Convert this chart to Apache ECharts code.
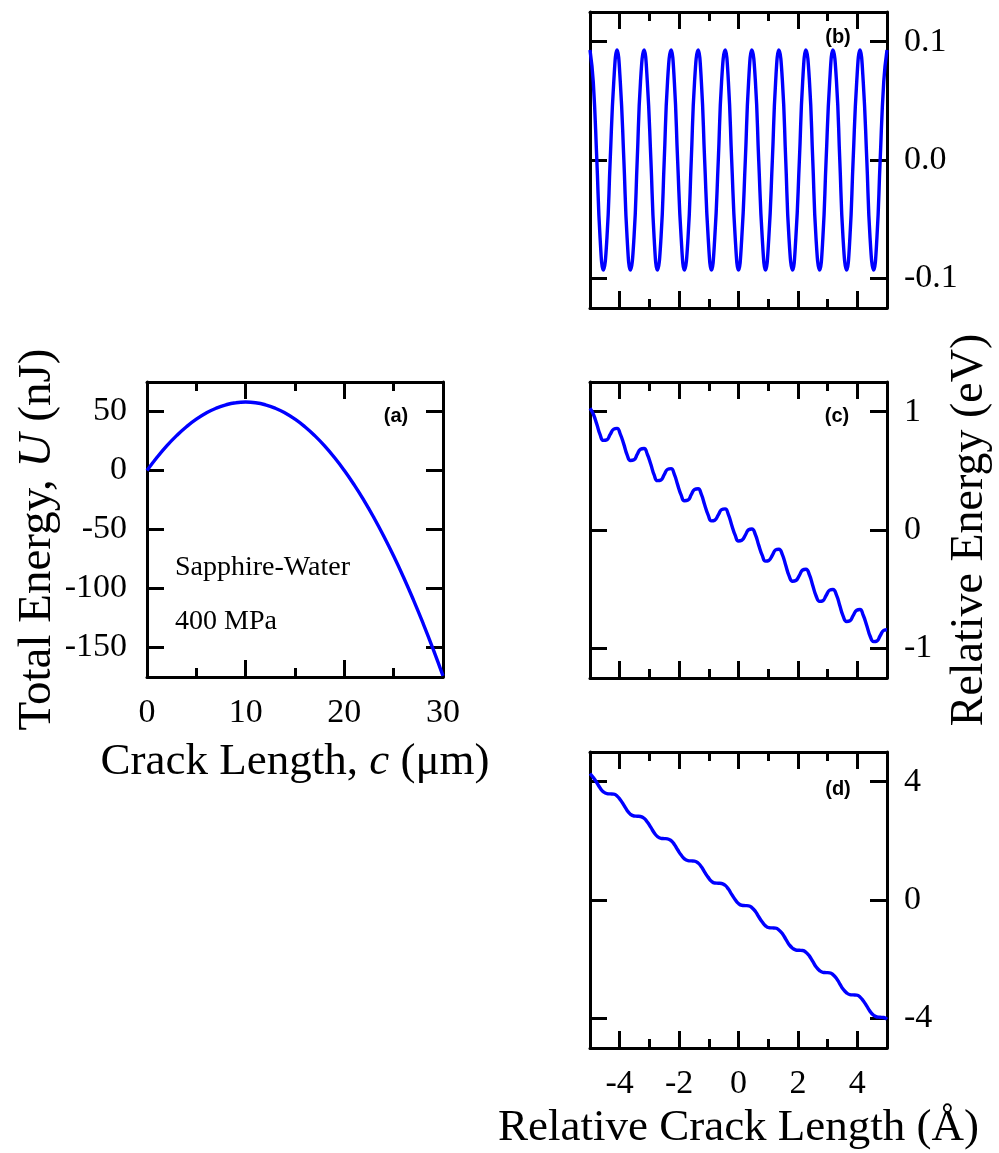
<!DOCTYPE html>
<html>
<head>
<meta charset="utf-8">
<script src="https://cdn.jsdelivr.net/npm/echarts@6/dist/echarts.min.js"></script>
<style>
html, body { margin: 0; padding: 0; background: #fff; }
#chart { width: 999px; height: 1153px; }
</style>
</head>
<body>
<div id="chart"></div>
<script>
// (a) Griffith total energy vs crack length
var crackLen = [0, 1, 2, 3, 4, 5, 6, 7, 8, 9, 10, 11, 12, 13, 14, 15,
  16, 17, 18, 19, 20, 21, 22, 23, 24, 25, 26, 27, 28, 29, 30];
var totalEnergy = [0, 11.02, 20.88, 29.58, 37.12, 43.5, 48.72, 52.78, 55.68, 57.42, 58.0,
  57.42, 55.68, 52.78, 48.72, 43.5, 37.12, 29.58, 20.88, 11.02, 0,
  -12.18, -25.52, -40.02, -55.68, -72.5, -90.48, -109.62, -129.92, -151.38, -174.0];

// (b)(c)(d) relative energy vs relative crack length (Angstrom)
var relCrack = [-5.00, -4.89, -4.77, -4.66, -4.55, -4.43, -4.32, -4.20,
  -4.09, -3.98, -3.86, -3.75, -3.64, -3.52, -3.41, -3.30,
  -3.18, -3.07, -2.95, -2.84, -2.73, -2.61, -2.50, -2.39,
  -2.27, -2.16, -2.05, -1.93, -1.82, -1.70, -1.59, -1.48,
  -1.36, -1.25, -1.14, -1.02, -0.91, -0.80, -0.68, -0.57,
  -0.45, -0.34, -0.23, -0.11, 0.00, 0.11, 0.23, 0.34,
  0.45, 0.57, 0.68, 0.80, 0.91, 1.02, 1.14, 1.25,
  1.36, 1.48, 1.59, 1.70, 1.82, 1.93, 2.05, 2.16,
  2.27, 2.39, 2.50, 2.61, 2.73, 2.84, 2.95, 3.07,
  3.18, 3.30, 3.41, 3.52, 3.64, 3.75, 3.86, 3.98,
  4.09, 4.20, 4.32, 4.43, 4.55, 4.66, 4.77, 4.89,
  5.00];
var energyB = [0.093, 0.066, 0, -0.066, -0.093, -0.066, 0, 0.066,
  0.093, 0.066, 0, -0.066, -0.093, -0.066, 0, 0.066,
  0.093, 0.066, 0, -0.066, -0.093, -0.066, 0, 0.066,
  0.093, 0.066, 0, -0.066, -0.093, -0.066, 0, 0.066,
  0.093, 0.066, 0, -0.066, -0.093, -0.066, 0, 0.066,
  0.093, 0.066, 0, -0.066, -0.093, -0.066, 0, 0.066,
  0.093, 0.066, 0, -0.066, -0.093, -0.066, 0, 0.066,
  0.093, 0.066, 0, -0.066, -0.093, -0.066, 0, 0.066,
  0.093, 0.066, 0, -0.066, -0.093, -0.066, 0, 0.066,
  0.093, 0.066, 0, -0.066, -0.093, -0.066, 0, 0.066,
  0.093, 0.066, 0, -0.066, -0.093, -0.066, 0, 0.066,
  0.093];
var energyC = [1.028, 0.980, 0.893, 0.805, 0.757, 0.763, 0.808, 0.852,
  0.858, 0.810, 0.723, 0.635, 0.587, 0.593, 0.638, 0.682,
  0.688, 0.640, 0.553, 0.465, 0.417, 0.423, 0.468, 0.512,
  0.518, 0.470, 0.383, 0.295, 0.247, 0.253, 0.298, 0.342,
  0.348, 0.300, 0.213, 0.125, 0.077, 0.083, 0.128, 0.172,
  0.178, 0.130, 0.043, -0.045, -0.093, -0.087, -0.043, 0.002,
  0.008, -0.040, -0.128, -0.215, -0.263, -0.257, -0.213, -0.168,
  -0.162, -0.210, -0.298, -0.385, -0.433, -0.427, -0.383, -0.338,
  -0.332, -0.380, -0.468, -0.555, -0.603, -0.597, -0.553, -0.508,
  -0.502, -0.550, -0.638, -0.725, -0.773, -0.767, -0.723, -0.678,
  -0.672, -0.720, -0.808, -0.895, -0.943, -0.937, -0.893, -0.848,
  -0.842];
var energyD = [4.270, 4.141, 3.961, 3.782, 3.653, 3.593, 3.584, 3.575,
  3.515, 3.386, 3.207, 3.027, 2.898, 2.839, 2.830, 2.820,
  2.761, 2.632, 2.452, 2.273, 2.144, 2.084, 2.075, 2.066,
  2.006, 1.877, 1.698, 1.518, 1.389, 1.330, 1.320, 1.311,
  1.252, 1.122, 0.943, 0.764, 0.634, 0.575, 0.566, 0.557,
  0.497, 0.368, 0.189, 0.009, -0.120, -0.179, -0.189, -0.198,
  -0.257, -0.387, -0.566, -0.745, -0.874, -0.934, -0.943, -0.952,
  -1.012, -1.141, -1.320, -1.500, -1.629, -1.688, -1.698, -1.707,
  -1.766, -1.896, -2.075, -2.254, -2.384, -2.443, -2.452, -2.462,
  -2.521, -2.650, -2.830, -3.009, -3.138, -3.197, -3.207, -3.216,
  -3.275, -3.405, -3.584, -3.763, -3.893, -3.952, -3.961, -3.971,
  -4.030];

// tick values
var aXTicks = [0, 10, 20, 30];
var aXMinor = [5, 15, 25];
var aYTicks = [-150, -100, -50, 0, 50];
var relXTicks = [-4, -2, 0, 2, 4];
var relXMinor = [-3, -1, 1, 3];
var bYTicks = [-0.1, 0, 0.1];
var cYTicks = [-1, 0, 1];
var dYTicks = [-4, 0, 4];

var serif = '"Liberation Serif", "Times New Roman", serif';
var black = '#000';
var blue = '#0000ff';

function pair(xs, ys) {
  return xs.map(function (v, i) { return [v, ys[i]]; });
}

function nameStyle(size) {
  return {
    fontFamily: serif, fontSize: size, color: black, lineHeight: size,
    rich: { i: { fontFamily: serif, fontSize: size, fontStyle: 'italic', color: black, lineHeight: size } }
  };
}

// 4 x axes per panel: bottom major, bottom minor, top major, top minor
function xAxes(g, min, max, major, minor, showLabels, name, gap) {
  var list = [];
  ['bottom', 'top'].forEach(function (pos) {
    list.push({
      type: 'value', gridIndex: g, position: pos, min: min, max: max,
      splitLine: { show: false },
      axisLine: { show: true, onZero: false, lineStyle: { color: black, width: 3 } },
      axisTick: { show: true, inside: true, length: 17, customValues: major, lineStyle: { color: black, width: 3 } },
      axisLabel: { show: pos === 'bottom' && showLabels, customValues: major, margin: 19,
        fontFamily: serif, fontSize: 34, color: black },
      name: pos === 'bottom' ? name : '',
      nameLocation: 'middle', nameGap: gap, nameTextStyle: nameStyle(45)
    });
    list.push({
      type: 'value', gridIndex: g, position: pos, min: min, max: max,
      splitLine: { show: false },
      axisLine: { show: false, onZero: false },
      axisTick: { show: true, inside: true, length: 9, customValues: minor, lineStyle: { color: black, width: 3 } },
      axisLabel: { show: false }
    });
  });
  return list;
}

// 2 y axes per panel: left, right
function yAxes(g, min, max, ticks, labelSide, fmt, name, gap, size, pad) {
  return ['left', 'right'].map(function (pos) {
    return {
      type: 'value', gridIndex: g, position: pos, min: min, max: max,
      splitLine: { show: false },
      axisLine: { show: true, onZero: false, lineStyle: { color: black, width: 3 } },
      axisTick: { show: true, inside: true, length: 17, customValues: ticks, lineStyle: { color: black, width: 3 } },
      axisLabel: { show: pos === labelSide, customValues: ticks, margin: pos === 'left' ? 20 : 17,
        fontFamily: serif, fontSize: 34, color: black, formatter: fmt },
      name: pos === labelSide ? name : '',
      nameLocation: 'middle', nameGap: gap,
      nameTextStyle: Object.assign(nameStyle(size || 45), { padding: pad || 0 })
    };
  });
}

var grids = [
  { left: 147, top: 382, width: 296, height: 295 },
  { left: 590, top: 12, width: 297, height: 296 },
  { left: 590, top: 382, width: 297, height: 296 },
  { left: 590, top: 752, width: 297, height: 296 }
].map(function (g) { g.outerBoundsMode = 'none'; return g; });

var xAxis = [].concat(
  xAxes(0, 0, 30, aXTicks, aXMinor, true, 'Crack Length, {i|c} (μm)', 63),
  xAxes(1, -5, 5, relXTicks, relXMinor, false, '', 0),
  xAxes(2, -5, 5, relXTicks, relXMinor, false, '', 0),
  xAxes(3, -5, 5, relXTicks, relXMinor, true, 'Relative Crack Length (Å)', 58)
);
var yAxis = [].concat(
  yAxes(0, -175, 75, aYTicks, 'left', null, 'Total Energy, {i|U} (nJ)', 85, 47, [0, 20, 0, 0]),
  yAxes(1, -0.125, 0.125, bYTicks, 'right', function (v) { return v.toFixed(1); }, '', 0),
  yAxes(2, -1.25, 1.25, cYTicks, 'right', null, 'Relative Energy (eV)', 60, 46),
  yAxes(3, -5, 5, dYTicks, 'right', null, '', 0)
);

function curve(panel, data) {
  return {
    type: 'line', xAxisIndex: panel * 4, yAxisIndex: panel * 2,
    data: data, showSymbol: false, smooth: true, animation: false,
    lineStyle: { color: blue, width: 3.4 }
  };
}

function label(text, x, y, font, align) {
  return {
    type: 'text', x: x, y: y, silent: true,
    style: { text: text, font: font, fill: black, align: align || 'center', verticalAlign: 'middle' }
  };
}

var boldSans = 'bold 20px "Liberation Sans", Arial, sans-serif';
var textFont = '28px "Liberation Serif", "Times New Roman", serif';

var chart = echarts.init(document.getElementById('chart'));
chart.setOption({
  animation: false,
  backgroundColor: '#fff',
  grid: grids,
  xAxis: xAxis,
  yAxis: yAxis,
  series: [
    curve(0, pair(crackLen, totalEnergy)),
    curve(1, pair(relCrack, energyB)),
    curve(2, pair(relCrack, energyC)),
    curve(3, pair(relCrack, energyD))
  ],
  graphic: [
    label('(a)', 396, 416, boldSans),
    label('(b)', 838, 37, boldSans),
    label('(c)', 837, 416, boldSans),
    label('(d)', 838, 789, boldSans),
    label('Sapphire-Water', 175, 568, textFont, 'left'),
    label('400 MPa', 175, 622, textFont, 'left')
  ]
});
</script>
</body>
</html>
